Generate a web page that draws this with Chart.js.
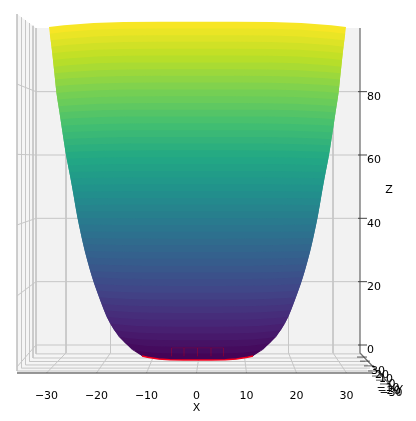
<!DOCTYPE html>
<html>
<head>
<meta charset="utf-8">
<script src="https://cdn.jsdelivr.net/npm/chart.js@4"></script>
<style>
  html, body { margin: 0; padding: 0; background: #fff; }
  canvas { display: block; }
</style>
</head>
<body>
<canvas id="chart" width="416" height="421"></canvas>
<script>
// axis ticks
const xTicks = [-30, -20, -10, 0, 10, 20, 30];
const zTicks = [0, 20, 40, 60, 80];
const yTicks = [30, 20, 10, 0, -10, -20, -30];

// bowl outline, one entry per colour band edge
const surfaceZ = [100.4, 98.3, 96.2, 94.2, 92.1, 90.0, 87.9, 85.8, 83.8, 81.7, 79.6, 77.5, 75.4, 73.4, 71.3, 69.2, 67.1, 65.0, 63.0, 60.9, 58.8, 56.7, 54.6, 52.6, 50.5, 48.4, 46.3, 44.2, 42.2, 40.1, 38.0, 35.9, 33.8, 31.8, 29.7, 27.6, 25.5, 23.4, 21.4, 19.3, 17.2, 15.1, 13.0, 11.0, 8.9, 6.8, 4.7, 2.6, 0.6, -1.5, -3.5];
const surfaceHalfWidth = [29.7, 29.54, 29.36, 29.2, 29.04, 28.9, 28.76, 28.62, 28.48, 28.36, 28.22, 28.02, 27.8, 27.6, 27.4, 27.2, 27, 26.8, 26.6, 26.4, 26.16, 25.9, 25.64, 25.38, 25.16, 24.9, 24.68, 24.46, 24.24, 24, 23.72, 23.44, 23.16, 22.86, 22.56, 22.2, 21.84, 21.46, 21.08, 20.66, 20.16, 19.7, 19.2, 18.7, 18.2, 17.5, 16.7, 15.76, 14.5, 13.1, 11.1];
const surfaceBow = [1.7, 1.64, 1.58, 1.52, 1.46, 1.4, 1.34, 1.28, 1.22, 1.16, 1.1, 1.04, 0.98, 0.92, 0.86, 0.8, 0.74, 0.68, 0.62, 0.56, 0.5, 0.44, 0.38, 0.32, 0.26, 0.2, 0.14, 0.08, 0.02, -0.04, -0.1, -0.16, -0.22, -0.28, -0.34, -0.4, -0.46, -0.52, -0.58, -0.64, -0.7, -0.76, -0.82, -0.88, -0.94, -1, -1.05, -1.1, -1.15, -1.18, -1.2];
// how the rim curves between the bowl's side (t=1) and its middle (t=0)
const bowT = [1, 0.9, 0.7, 0.5, 0.25, 0];
const bowWeight = [0, 0.33, 0.77, 0.95, 1, 1];
const surfaceCenter = 0.2;

const viridis = ['#440154', '#482475', '#414487', '#355f8d', '#2a788e', '#21918c', '#22a884', '#44bf70', '#7ad151', '#bddf26', '#fde725'];

// box of the 3D axes, in plot units (x, z)
const backLeft = -32.1, backRight = 32.7, backTop = 100.1, backFloor = -2.5;
const frontLeft = -35.9, frontRight = 35.3, frontTop = 104.5, frontFloor = -8.84;
const backGridX = [-26.1, -17.2, -8.3, 0.6, 9.5, 18.4, 27.3];
const wallGridFrontZ = [-6.9, 15.5, 37.9, 60.2, 82.4];
const depthLineX = [-35.9, -35, -34.2, -33.4, -32.7, -32.1];
const depthLineTop = [104.5, 103.4, 102.6, 101.6, 100.8, 100.1];
const depthLineFloor = [-8.2, -7.3, -6.3, -5.2, -4.1, -2.8];
const depthLineRight = [35.1, 34.7, 34.3, 33.7, 33.3, 32.8];

// Y axis, squeezed at the right because of the view angle
const yTickX = [33.5, 34.1, 34.9, 35.7, 36.5, 37.3, 38.1];
const yTickZ = [-3.8, -5.1, -6.6, -8.2, -9.8, -11.1, -12.3];
const yLabelX = [36.3, 37.1, 37.9, 39.1, 38.3, 38.5, 38.9];
const yLabelZ = [-8.2, -9.5, -10.7, -12.3, -13.6, -14.5, -15.2];
const yAxisEnd = { x: 40.7, z: -15.8 };

const datasets = [];

function addLine(points, color, width) {
    datasets.push({
        data: points,
        showLine: true,
        fill: false,
        borderColor: color,
        borderWidth: width,
        pointRadius: 0,
        clip: false
    });
}

function addShape(points, color) {
    datasets.push({
        data: points,
        showLine: true,
        fill: 'shape',
        backgroundColor: color,
        borderColor: 'transparent',
        borderWidth: 0,
        pointRadius: 0,
        clip: false
    });
}

function viridisColor(v) {
    const pos = Math.max(0, Math.min(1, v)) * (viridis.length - 1);
    const i = Math.min(Math.floor(pos), viridis.length - 2);
    const f = pos - i;
    const a = parseInt(viridis[i].slice(1), 16);
    const b = parseInt(viridis[i + 1].slice(1), 16);
    const mix = shift => Math.round(((a >> shift) & 255) * (1 - f) + ((b >> shift) & 255) * f);
    return `rgb(${mix(16)},${mix(8)},${mix(0)})`;
}

// one edge of a band, left to right
function bandEdge(k) {
    const pts = [];
    for (let i = 0; i < bowT.length; i++) {
        pts.push({ x: surfaceCenter - surfaceHalfWidth[k] * bowT[i], y: surfaceZ[k] + surfaceBow[k] * bowWeight[i] });
    }
    for (let i = bowT.length - 2; i >= 0; i--) {
        pts.push({ x: surfaceCenter + surfaceHalfWidth[k] * bowT[i], y: surfaceZ[k] + surfaceBow[k] * bowWeight[i] });
    }
    return pts;
}

const gridColor = '#c6c6c6';
const lastBand = surfaceZ.length - 1;

// panes
addShape([{ x: frontLeft, y: frontTop }, { x: backLeft, y: backTop }, { x: backLeft, y: backFloor }, { x: frontLeft, y: frontFloor }, { x: frontLeft, y: frontTop }], '#f5f5f5');
addShape([{ x: backLeft, y: backTop }, { x: backRight, y: backTop }, { x: backRight, y: backFloor }, { x: backLeft, y: backFloor }, { x: backLeft, y: backTop }], '#f2f2f2');
addShape([{ x: backLeft, y: backFloor }, { x: backRight, y: backFloor }, { x: frontRight, y: frontFloor }, { x: frontLeft, y: frontFloor }, { x: backLeft, y: backFloor }], '#f5f5f5');

// grid on the panes
depthLineX.forEach((x, i) => {
    addLine([{ x: x, y: depthLineTop[i] }, { x: x, y: depthLineFloor[i] }, { x: depthLineRight[i], y: depthLineFloor[i] }], gridColor, 1);
});
zTicks.forEach((z, i) => {
    addLine([{ x: frontLeft, y: wallGridFrontZ[i] }, { x: backLeft, y: z }, { x: backRight, y: z }], gridColor, 1);
});
backGridX.forEach((x, i) => {
    addLine([{ x: x, y: backTop }, { x: x, y: backFloor }, { x: xTicks[i], y: frontFloor }], gridColor, 1);
});

// axis lines with their tick dashes
addLine([{ x: frontLeft, y: frontFloor }, { x: frontRight, y: frontFloor }], '#333', 1);
addLine([{ x: backRight, y: backTop }, { x: backRight, y: backFloor }, { x: yAxisEnd.x, y: yAxisEnd.z }], '#707070', 1.3);
zTicks.forEach(z => addLine([{ x: 32.3, y: z }, { x: 34.1, y: z }], '#444', 1));
yTickX.forEach((x, i) => addLine([{ x: x - 1.4, y: yTickZ[i] }, { x: x + 0.6, y: yTickZ[i] }], '#333', 0.8));

// the bowl, band by band from the top down; each band runs on under the next one so no seams show
for (let k = 0; k < lastBand; k++) {
    const shape = bandEdge(k).concat(bandEdge(Math.min(k + 2, lastBand)).reverse());
    shape.push(shape[0]);
    const mid = (surfaceZ[k] + surfaceZ[k + 1]) / 2;
    addShape(shape, viridisColor((mid - surfaceZ[lastBand]) / (surfaceZ[0] - surfaceZ[lastBand])));
}

// red wireframe at the bottom of the bowl
addLine([{ x: -5, y: -0.9 }, { x: 5.4, y: -0.9 }], 'rgba(255,0,0,0.25)', 0.6);
[-5, -2.5, 0.2, 2.9, 5.4].forEach(x => addLine([{ x: x, y: -0.9 }, { x: x, y: -3.6 }], 'rgba(255,0,0,0.18)', 0.6));
addLine(bandEdge(lastBand), '#f5001e', 1.5);

// first in the list is drawn on top by Chart.js
datasets.reverse();

const fontFamily = '"DejaVu Sans", sans-serif';
const fontSize = 11;
const minusSign = v => String(v).replace('-', '\u2212');

// text the axes cannot place themselves: axis titles and Y tick labels
const freeLabels = {
    id: 'freeLabels',
    afterDraw(chart) {
        const { ctx, scales } = chart;
        ctx.save();
        ctx.font = fontSize + 'px ' + fontFamily;
        ctx.fillStyle = '#000';
        ctx.textAlign = 'center';
        ctx.textBaseline = 'middle';
        yTicks.forEach((v, i) => {
            ctx.fillText(minusSign(v), scales.x.getPixelForValue(yLabelX[i]), scales.y.getPixelForValue(yLabelZ[i]));
        });
        ctx.fillText('Y', scales.x.getPixelForValue(40.6), scales.y.getPixelForValue(-14.4));
        ctx.fillText('Z', scales.x.getPixelForValue(38.5), scales.y.getPixelForValue(48.9));
        ctx.fillText('X', scales.x.getPixelForValue(0), 408);
        ctx.restore();
    }
};

new Chart(document.getElementById('chart').getContext('2d'), {
    type: 'scatter',
    data: { datasets: datasets },
    plugins: [freeLabels],
    options: {
        responsive: false,
        animation: false,
        layout: { padding: { left: 16, right: 0, top: 0, bottom: 0 } },
        plugins: { legend: { display: false }, tooltip: { enabled: false } },
        scales: {
            x: {
                type: 'linear',
                min: -36.1,
                max: 34.1,
                afterFit: scale => { scale.height = 48; },
                afterBuildTicks: scale => { scale.ticks = xTicks.map(v => ({ value: v })); },
                grid: { display: false },
                border: { display: false },
                ticks: {
                    autoSkip: false,
                    maxRotation: 0,
                    padding: 9,
                    color: '#000',
                    font: { family: fontFamily, size: fontSize },
                    callback: minusSign
                }
            },
            y: {
                type: 'linear',
                position: 'right',
                min: -8.84,
                max: 108.94,
                afterFit: scale => { scale.width = 49; },
                afterBuildTicks: scale => { scale.ticks = zTicks.map(v => ({ value: v })); },
                grid: { display: false },
                border: { display: false },
                ticks: {
                    autoSkip: false,
                    padding: -8,
                    labelOffset: 5.5,
                    color: '#000',
                    font: { family: fontFamily, size: fontSize }
                }
            }
        }
    }
});
</script>
</body>
</html>
